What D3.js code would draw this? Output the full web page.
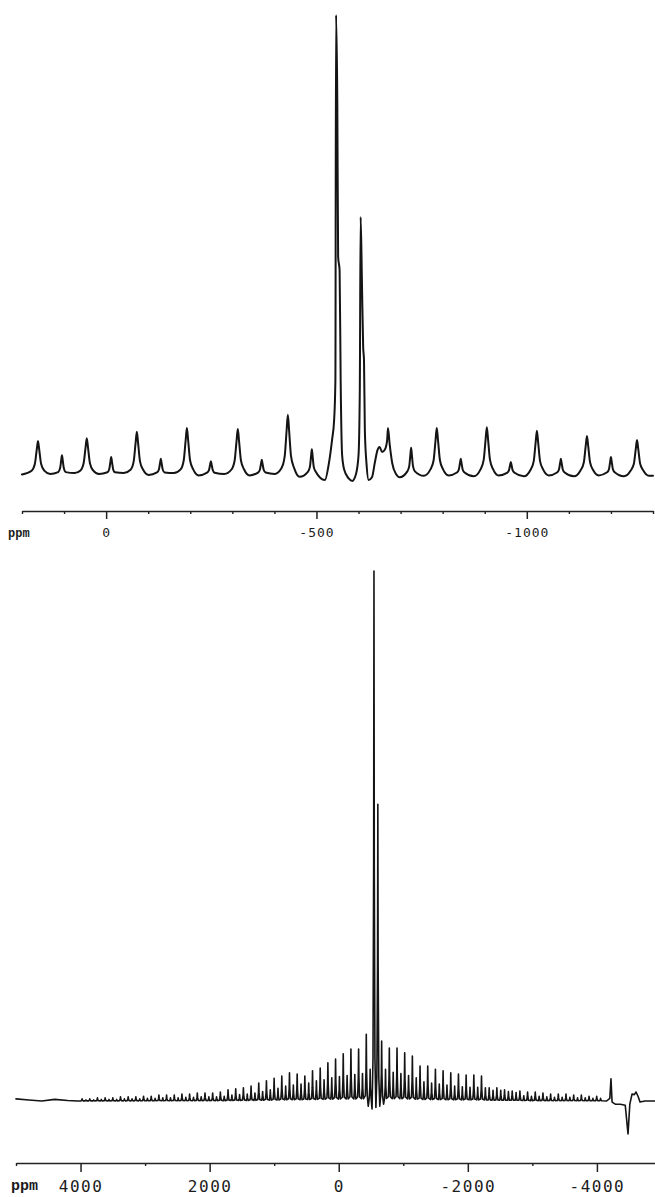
<!DOCTYPE html>
<html>
<head>
<meta charset="utf-8">
<script src="https://cdn.jsdelivr.net/npm/d3@7"></script>
<style>
  body { margin: 0; background: #fff; }
  svg { display: block; }
  .trace { fill: none; stroke: #141414; stroke-linejoin: round; stroke-linecap: round; }
  .ppm-label { font-family: "Liberation Mono", monospace; font-weight: bold; fill: #1c1c1c; }
</style>
</head>
<body>
<svg id="chart" width="655" height="1197"></svg>
<script>
// ---- top spectrum (narrow window) ----
// spinning sidebands of the strong site (ppm / relative intensity, centre peak = 1000)
var topAPpm = [162, 46, -73, -192, -313, -432, -786, -905, -1024, -1143, -1262];
var topAHeight = [72, 78, 92, 100, 98, 129, 100, 102, 94, 83, 74];
// sidebands of the second site
var topBPpm = [105, -12, -130, -249, -370, -489, -725, -843, -962, -1081, -1200];
var topBHeight = [41, 37, 33, 28, 31, 54, 57, 33, 26, 33, 37];
// baseline between the sidebands
var topValleyPpm = [200, 133, 75, 17, -42, -101, -161, -220, -281, -341, -401, -460,
  -755, -814, -874, -933, -993, -1052, -1112, -1171, -1231, -1290, -1300];
var topValleyLevel = [-1, 0, 2, 0, 2, -2, 2, -3, 0, -3, 0, -6,
  -4, -3, -5, -3, -5, -3, -5, -3, -5, -4, -4];
// centre bands, traced point by point
var topCentrePpm = [-520, -530, -537, -542, -545, -546.5, -549.5, -551.5, -555, -557.5, -561, -566,
  -576, -585, -594, -600, -603, -605, -608, -611, -613, -615, -619, -624, -632, -639, -645, -650,
  -656, -663, -668, -670, -674, -680, -689, -698];
var topCentreInt = [-13, 26, 74, 118, 205, 1000, 815, 473, 444, 205, 41, 9,
  -9, -15, 0, 41, 183, 560, 423, 277, 248, 96, 22, -13, -7, 26, 52, 59,
  48, 54, 74, 100, 65, 24, 0, -7];
var topMajorTicks = [0, -500, -1000];
var topMinorTicks = [200, 100, -100, -200, -300, -400, -600, -700, -800, -900, -1100, -1200, -1300];

// ---- bottom spectrum (full sideband manifold) ----
var botAPpm = [3976, 3857, 3738, 3619, 3500, 3381, 3262, 3143, 3024, 2905, 2786, 2667, 2548, 2429,
  2310, 2191, 2072, 1953, 1834, 1715, 1596, 1477, 1358, 1239, 1120, 1001, 882, 763, 644, 525, 406,
  287, 168, 49, -70, -189, -308, -427, -546, -665, -784, -903, -1022, -1141, -1260, -1379, -1498,
  -1617, -1736, -1855, -1974, -2093, -2212, -2331, -2450, -2569, -2688, -2807, -2926, -3045, -3164,
  -3283, -3402, -3521, -3640, -3759, -3878, -3997];
var botAHeight = [4, 4, 6, 6, 6, 8, 8, 8, 9, 9, 11, 11, 11, 13, 13, 15, 15, 15, 17, 21, 23, 25, 28,
  34, 38, 43, 47, 53, 51, 47, 57, 62, 72, 79, 89, 98, 98, 126, 1000, 113, 100, 100, 91, 85, 66, 66,
  60, 57, 53, 51, 49, 49, 47, 25, 25, 21, 19, 19, 17, 17, 15, 13, 13, 13, 11, 11, 9, 9];
var botBPpm = [3916, 3797, 3678, 3559, 3440, 3321, 3202, 3083, 2964, 2845, 2726, 2607, 2488, 2369,
  2250, 2131, 2012, 1893, 1774, 1655, 1536, 1417, 1298, 1179, 1060, 941, 822, 703, 584, 465, 346,
  227, 108, -11, -130, -249, -368, -487, -606, -725, -844, -963, -1082, -1201, -1320, -1439, -1558,
  -1677, -1796, -1915, -2034, -2153, -2272, -2391, -2510, -2629, -2748, -2867, -2986, -3105, -3224,
  -3343, -3462, -3581, -3700, -3819, -3938, -4057];
var botBHeight = [2, 2, 3, 3, 3, 4, 4, 4, 5, 5, 6, 6, 6, 7, 7, 8, 8, 8, 9, 11, 12, 13, 15, 18, 21,
  24, 28, 30, 32, 34, 38, 40, 44, 46, 48, 50, 52, 60, 560, 60, 54, 52, 48, 44, 36, 34, 32, 30, 28,
  27, 26, 26, 25, 20, 20, 18, 16, 10, 9, 9, 8, 7, 7, 7, 6, 6, 5, 5];
var botValleyPpm = [5000, 4800, 4600, 4400, 4200, 4050, -457, -516, -576, -636, -695];
var botValleyLevel = [4, 2, 0, 3, 1, 0, -10, -15, -12, -10, -6];
// artefact at the right-hand end
var botTailPpm = [-4150, -4200, -4218, -4235, -4285, -4362, -4439, -4482, -4510, -4544, -4580,
  -4606, -4640, -4668, -4745, -4900];
var botTailInt = [0, 5, 42, -2, -6, -6, -8, -62, -6, 13, 12, 17, 8, -2, 0, 0];
var botMajorTicks = [4000, 2000, 0, -2000, -4000];
var botMinorTicks = [5000, 3000, 1000, -1000, -3000];

var svg = d3.select("#chart");

var topX = d3.scaleLinear().domain([200, -1300]).range([22, 653]);
var topY = d3.scaleLinear().domain([0, 1000]).range([474, 15]);
var botX = d3.scaleLinear().domain([5000, -4900]).range([16, 655]);
var botY = d3.scaleLinear().domain([0, 1000]).range([1101, 571]);

// line shape used for every band (offsets in widths, level as part of height)
var topShapeOff = [-3, -1.5, -0.6, 0, 0.6, 1.5, 3];
var topShapeLev = [0.1, 0.3, 0.73, 1, 0.73, 0.3, 0.1];
var botShapeOff = [-2.5, -0.8, 0, 0.8, 2.5];
var botShapeLev = [0.08, 0.45, 1, 0.45, 0.08];

function bandPoints(ppmList, heightList, width, off, lev) {
  var pts = [];
  ppmList.forEach(function(p, i) {
    off.forEach(function(o, k) {
      pts.push([p - o * width, heightList[i] * lev[k]]);
    });
  });
  return pts;
}

function pairs(a, b) {
  return a.map(function(d, i) { return [d, b[i]]; });
}

// top trace
var topPts = [].concat(
  bandPoints(topAPpm, topAHeight, 5, topShapeOff, topShapeLev),
  bandPoints(topBPpm, topBHeight, 3, topShapeOff, topShapeLev),
  pairs(topValleyPpm, topValleyLevel),
  pairs(topCentrePpm, topCentreInt)
).sort(function(a, b) { return b[0] - a[0]; });

var topLine = d3.line()
  .x(function(d) { return topX(d[0]); })
  .y(function(d) { return topY(d[1]); })
  .curve(d3.curveMonotoneX);

svg.append("path")
  .attr("class", "trace")
  .attr("stroke-width", 2)
  .attr("d", topLine(topPts));

// bottom trace
var botPts = [].concat(
  bandPoints(botAPpm, botAHeight, 6, botShapeOff, botShapeLev),
  bandPoints(botBPpm, botBHeight, 6, botShapeOff, botShapeLev),
  pairs(botValleyPpm, botValleyLevel),
  pairs(botTailPpm, botTailInt)
).sort(function(a, b) { return b[0] - a[0]; });

var botLine = d3.line()
  .x(function(d) { return botX(d[0]); })
  .y(function(d) { return botY(d[1]); });

svg.append("path")
  .attr("class", "trace")
  .attr("stroke-width", 1.6)
  .attr("d", botLine(botPts));

// axes
function drawAxis(x, yPos, major, minor, majorLen, fontSize, spacing, pad) {
  var gMinor = svg.append("g")
    .attr("transform", "translate(0," + yPos + ")")
    .call(d3.axisBottom(x).tickValues(minor).tickSize(3).tickSizeOuter(0).tickFormat(""));
  gMinor.select(".domain").remove();
  gMinor.selectAll("line").attr("stroke", "#222").attr("stroke-width", 1.4);

  var g = svg.append("g")
    .attr("transform", "translate(0," + yPos + ")")
    .call(d3.axisBottom(x).tickValues(major).tickSize(majorLen).tickSizeOuter(0)
      .tickPadding(pad).tickFormat(function(d) { return String(d); }));
  g.attr("font-family", "'DejaVu Sans Mono', monospace").attr("font-size", fontSize);
  g.select(".domain").attr("stroke", "#222").attr("stroke-width", 1.7);
  g.selectAll("line").attr("stroke", "#222").attr("stroke-width", 1.5);
  g.selectAll("text").attr("fill", "#1c1c1c").style("letter-spacing", spacing + "px");
}

drawAxis(topX, 511, topMajorTicks, topMinorTicks, 8, 13, 1, 9);
drawAxis(botX, 1163, botMajorTicks, botMinorTicks, 9, 16, 1.5, 9);

svg.append("text").attr("class", "ppm-label")
  .attr("x", 8).attr("y", 537).attr("font-size", 12).text("ppm");
svg.append("text").attr("class", "ppm-label")
  .attr("x", 11).attr("y", 1190).attr("font-size", 15).text("ppm");
</script>
</body>
</html>
